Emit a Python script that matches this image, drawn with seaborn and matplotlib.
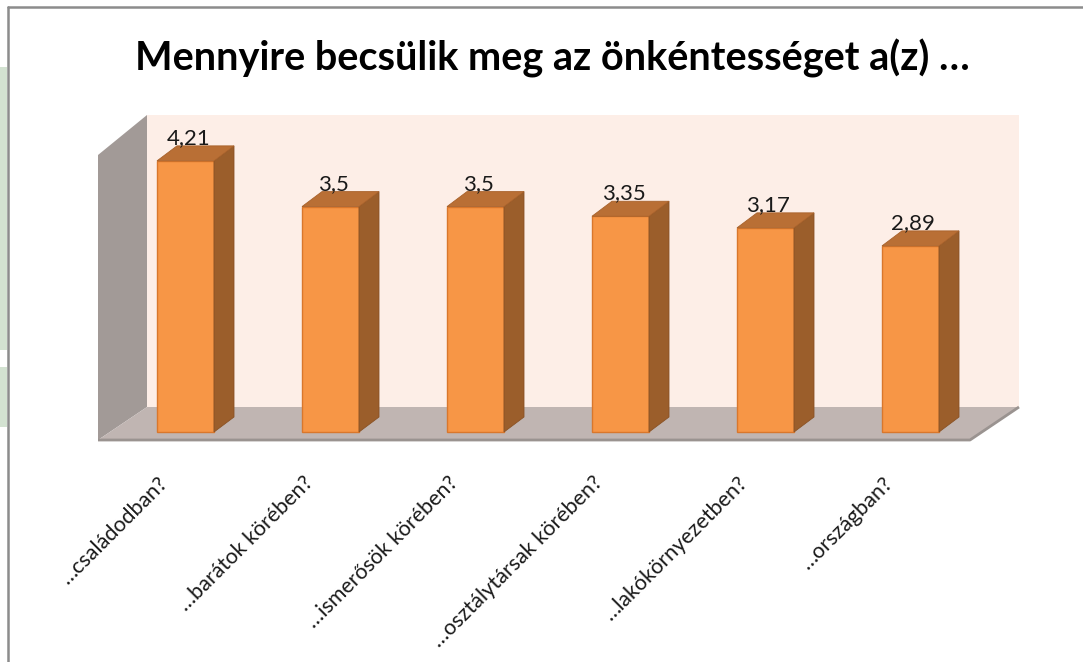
import pandas as pd
import matplotlib.pyplot as plt
import matplotlib.transforms as mtransforms
import seaborn as sns
from matplotlib.patches import Polygon, Rectangle
from matplotlib.lines import Line2D

# adatok
categories = ['…családodban?', '…barátok körében?', '…ismerősök körében?',
              '…osztálytársak körében?', '…lakókörnyezetben?', '…országban?']
values = [4.21, 3.5, 3.5, 3.35, 3.17, 2.89]
value_labels = ['4,21', '3,5', '3,5', '3,35', '3,17', '2,89']
title = 'Mennyire becsülik meg az önkéntességet a(z) …'

df = pd.DataFrame({'kategoria': categories, 'ertek': values})

sns.set_theme(style='white')
plt.rcParams['font.family'] = ['Lato', 'DejaVu Sans']

W, H = 1083, 662
fig = plt.figure(figsize=(W / 100, H / 100), dpi=100)
fig.patch.set_facecolor('white')

# tengely pixelben: bal 90, jobb 1030, felső 100, alsó 450
ax = fig.add_axes([90 / W, 1 - 450 / H, 940 / W, 350 / H])
ax.set_facecolor('none')

sx = 145.0   # px / kategoria
sy = 64.4    # px / egyseg
x0 = -(185.5 - 90) / sx
y0 = -(450 - 432) / sy

# 3D "doboz": hátfal, oldalfal, padló
back_l, back_r = (147 - 185.5) / sx, (1019 - 185.5) / sx
back_b, back_t = (432 - 407) / sy, (432 - 115) / sy
front_l, front_r = (98 - 185.5) / sx, (970 - 185.5) / sx
front_b, front_t = (432 - 440) / sy, (432 - 155) / sy

ax.add_patch(Polygon([(back_l, back_b), (back_r, back_b), (back_r, back_t), (back_l, back_t)],
                     closed=True, facecolor='#FDEEE7', edgecolor='none', zorder=0))
ax.add_patch(Polygon([(front_l, front_b), (back_l, back_b), (back_l, back_t), (front_l, front_t)],
                     closed=True, facecolor='#A29A97', edgecolor='none', zorder=0.5))
ax.add_patch(Polygon([(front_l, front_b), (front_r, front_b), (back_r, back_b), (back_l, back_b)],
                     closed=True, facecolor='#C0B5B2', edgecolor='none', zorder=0.5))
ax.plot([front_l, front_r, back_r], [front_b, front_b, back_b], color='#9A9390', lw=2,
        solid_capstyle='butt', zorder=0.6)

sns.barplot(data=df, x='kategoria', y='ertek', width=57 / sx, color='#F79646',
            saturation=1, edgecolor='#D9772C', linewidth=1, ax=ax, zorder=2)

dx, dy = 20 / sx, 15 / sy
bars = list(ax.patches)[-len(values):]
for p, lab in zip(bars, value_labels):
    bx, bw, bh = p.get_x(), p.get_width(), p.get_height()
    r = bx + bw
    ax.add_patch(Polygon([(r, 0), (r + dx, dy), (r + dx, bh + dy), (r, bh)], closed=True,
                         facecolor='#9B5E2B', edgecolor='#8A5224', linewidth=0.6, zorder=2))
    ax.add_patch(Polygon([(bx, bh), (r, bh), (r + dx, bh + dy), (bx + dx, bh + dy)], closed=True,
                         facecolor='#B96F35', edgecolor='#A8612A', linewidth=0.6, zorder=2))
    ax.text(bx + bw / 2 + 0.02, bh + dy + 2 / sy, lab, ha='center', va='baseline',
            fontsize=16, color='#1a1a1a', zorder=3)

ax.set_xlim(x0, x0 + 940 / sx)
ax.set_ylim(y0, y0 + 350 / sy)
ax.set_xticks(range(len(categories)))
ax.set_xticklabels(categories, rotation=45, ha='right', va='top', fontsize=15.5, color='#1a1a1a')
ax.tick_params(axis='x', length=0, pad=9)
shift = mtransforms.ScaledTranslation(-14 / 100, -10 / 100, fig.dpi_scale_trans)
for t in ax.get_xticklabels():
    t.set_transform(t.get_transform() + shift)
ax.set_yticks([])
ax.set_xlabel('')
ax.set_ylabel('')
for s in ax.spines.values():
    s.set_visible(False)

fig.text(552 / W, 1 - 71 / H, title, ha='center', va='baseline', fontsize=28.5,
         fontweight='bold', color='black')

# keret és zöld háttérfolt bal oldalt
fig.add_artist(Rectangle((0, 1 - 350 / H), 7 / W, 283 / H, transform=fig.transFigure,
                         facecolor='#D3E2D1', edgecolor='none'))
fig.add_artist(Rectangle((0, 1 - 427 / H), 7 / W, 60 / H, transform=fig.transFigure,
                         facecolor='#D3E2D1', edgecolor='none'))
fig.add_artist(Line2D([8 / W, 1], [1 - 7 / H, 1 - 7 / H], transform=fig.transFigure,
                      color='#8C8C8C', lw=1.8))
fig.add_artist(Line2D([8 / W, 8 / W], [0, 1 - 7 / H], transform=fig.transFigure,
                      color='#8C8C8C', lw=1.8))

fig.savefig('out.png', dpi=100)
